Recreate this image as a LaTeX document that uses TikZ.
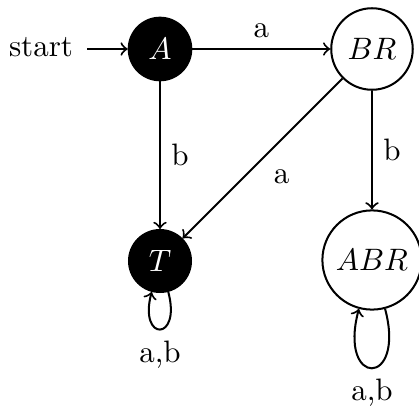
\documentclass[tikz,border=0pt]{standalone}
\usetikzlibrary{automata,positioning}
\begin{document}
\begin{tikzpicture}[x=0.32258pt,y=-0.32258pt,>=to,auto,line width=0.65pt,
  blackstate/.style={circle,draw,fill=black,text=white,inner sep=0pt},
  whitestate/.style={circle,draw,inner sep=0pt},
  every loop/.style={->,looseness=8,min distance=5mm}]
\useasboundingbox (0,0) rectangle (419,412);
\node[blackstate,minimum size=20.2pt] (A) at (160,49) {$A$};
\node[whitestate,minimum size=26.3pt] (BR) at (372,49) {$BR$};
\node[blackstate,minimum size=20pt] (T) at (160,261) {$T$};
\node[whitestate,minimum size=32pt] (ABR) at (372,260) {$ABR$};
\node (st) at (41,47) {start};
\coordinate (stend) at (87,49);
\draw[->] (stend) -- (A);
\draw[->] (A) -- node {a} (BR);
\draw[->] (A) -- node {b} (T);
\draw[->] (BR) -- node {a} (T);
\draw[->] (BR) -- node {b} (ABR);
\draw (T) edge[loop below] node {a,b} (T);
\draw (ABR) edge[loop below] node {a,b} (ABR);
\end{tikzpicture}
\end{document}
